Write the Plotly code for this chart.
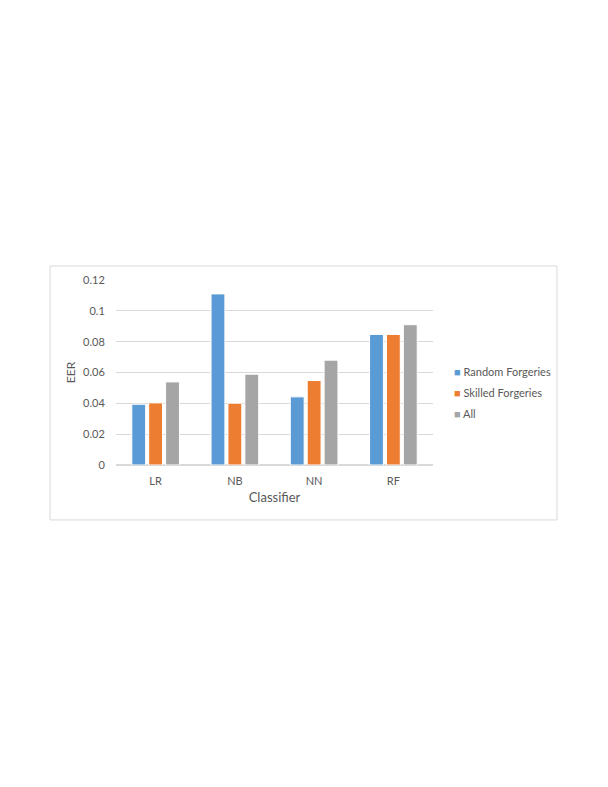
import plotly.graph_objects as go

classifiers = ["LR", "NB", "NN", "RF"]
random_forgeries = [0.0394, 0.111, 0.0442, 0.0847]
skilled_forgeries = [0.0403, 0.0401, 0.0548, 0.0847]
all_forgeries = [0.0539, 0.0589, 0.068, 0.091]
y_ticks = [0, 0.02, 0.04, 0.06, 0.08, 0.1, 0.12]

text_col = "#595959"
font_name = "Lato, Liberation Sans, sans-serif"

series = [
    ("Random Forgeries", random_forgeries, "#5B9BD5"),
    ("Skilled Forgeries", skilled_forgeries, "#ED7D31"),
    ("All", all_forgeries, "#A5A5A5"),
]

fig = go.Figure()
for name, vals, col in series:
    fig.add_trace(go.Bar(
        x=classifiers, y=vals, name=name, showlegend=False,
        marker=dict(color=col, line=dict(color="white", width=1)),
    ))

# page body has an 8px margin, so the margins are shifted by 8
fig.update_layout(
    width=608, height=787,
    paper_bgcolor="white", plot_bgcolor="white",
    margin=dict(l=108, r=183, t=272, b=330),
    barmode="group", bargap=0.36, bargroupgap=0.18,
    font=dict(family=font_name, size=11, color=text_col),
)
fig.update_yaxes(
    range=[0, 0.12], tickvals=y_ticks, ticktext=[str(v) for v in y_ticks],
    showgrid=True, gridcolor="#D9D9D9", gridwidth=1,
    zeroline=True, zerolinecolor="#D9D9D9",
    ticks="outside", ticklen=8, tickcolor="rgba(0,0,0,0)",
    title=dict(text="EER", font=dict(size=12, color=text_col), standoff=4),
)
fig.update_xaxes(
    showline=False, ticks="outside", ticklen=6, tickcolor="rgba(0,0,0,0)",
    title=dict(text="Classifier", font=dict(size=13, color=text_col), standoff=6),
)

# legend, Excel style: small square right next to the label
for i, (name, vals, col) in enumerate(series):
    fig.add_annotation(
        xref="paper", yref="paper", x=1.06, y=0.503 - i * 0.1135,
        xanchor="left", yanchor="middle", showarrow=False,
        text=f"<span style='color:{col}'>■</span> {name}",
        font=dict(size=11, color=text_col),
    )

# chart frame
fig.add_shape(type="rect", xref="paper", yref="paper",
              x0=-0.208, x1=1.391, y0=-0.297, y1=1.076,
              line=dict(color="#D9D9D9", width=1), layer="below")

fig.write_html("out.html")
